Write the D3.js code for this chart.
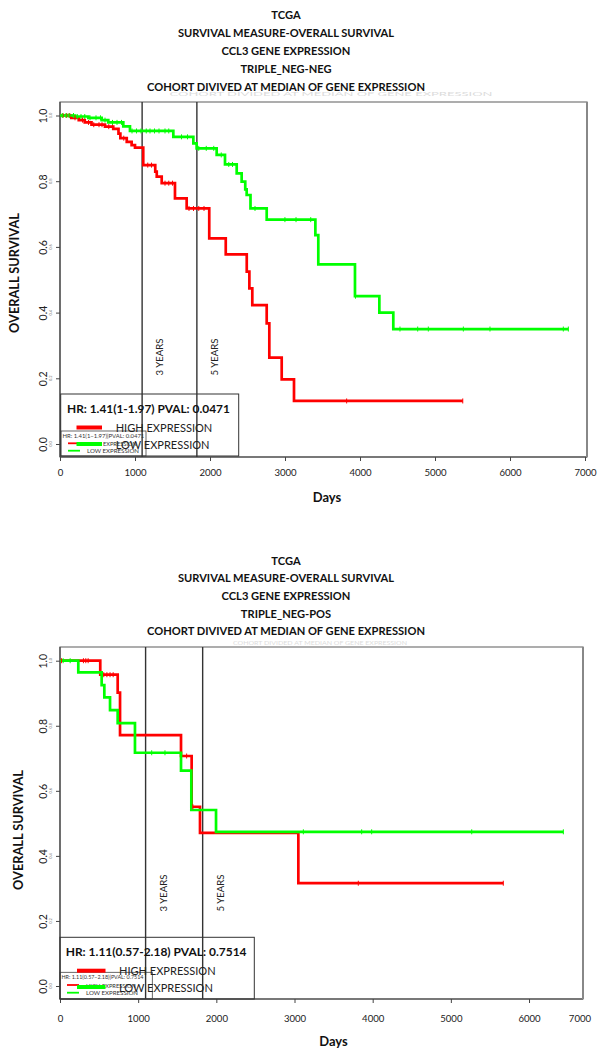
<!DOCTYPE html>
<html><head><meta charset="utf-8">
<script src="https://cdn.jsdelivr.net/npm/d3@7"></script>
<style>body{margin:0;background:#fff}svg{display:block}</style>
</head><body>
<svg id="c" width="605" height="1058"></svg>
<script>
// ---------- DATA ----------
const titleNeg = ["TCGA","SURVIVAL MEASURE-OVERALL SURVIVAL","CCL3 GENE EXPRESSION","TRIPLE_NEG-NEG","COHORT DIVIVED AT MEDIAN OF GENE EXPRESSION"];
const titlePos = ["TCGA","SURVIVAL MEASURE-OVERALL SURVIVAL","CCL3 GENE EXPRESSION","TRIPLE_NEG-POS","COHORT DIVIVED AT MEDIAN OF GENE EXPRESSION"];
const faintSubtitle = "COHORT DIVIDED AT MEDIAN OF GENE EXPRESSION";
const xTickValues = [0,1000,2000,3000,4000,5000,6000,7000];
const yTickValues = [0,0.2,0.4,0.6,0.8,1.0];
const yTickLabels = ["0.0","0.2","0.4","0.6","0.8","1.0"];
const yearDays = [1095,1825];
const yearLabels = ["3 YEARS","5 YEARS"];
const legendLabels = ["HIGH EXPRESSION","LOW EXPRESSION"];
const seriesColors = ["#ff0000","#00ff00"];
const xAxisTitle = "Days";
const yAxisTitle = "OVERALL SURVIVAL";

// TRIPLE_NEG-NEG : [day, survival after step]
const negHighSteps = [[0,1],[150,0.993],[250,0.986],[330,0.979],[420,0.972],[600,0.966],[710,0.959],[780,0.945],[805,0.931],[890,0.920],[955,0.910],[1000,0.902],[1110,0.849],[1270,0.829],[1290,0.814],[1356,0.794],[1533,0.748],[1689,0.717],[1990,0.626],[2210,0.577],[2490,0.525],[2525,0.474],[2564,0.423],[2756,0.367],[2791,0.263],[2956,0.197],[3120,0.131]];
const negHighEnd = 5370;
const negHighCensor = [40,90,130,200,300,380,450,520,560,650,700,850,1170,1220,1400,1450,1500,1720,1780,1850,1920,3822,5370];
const negLowSteps = [[0,1],[200,0.997],[378,0.993],[556,0.986],[644,0.979],[844,0.967],[933,0.953],[1511,0.935],[1778,0.915],[1822,0.900],[2089,0.880],[2200,0.851],[2356,0.824],[2422,0.799],[2470,0.775],[2489,0.758],[2540,0.717],[2756,0.683],[3405,0.636],[3444,0.547],[3933,0.450],[4258,0.400],[4444,0.350]];
const negLowEnd = 6778;
const negLowCensor = [30,80,120,180,230,280,330,400,480,540,600,700,760,820,960,1020,1080,1150,1200,1260,1320,1400,1450,1620,1700,1850,1950,2050,2150,2250,2300,2600,2999,3147,3343,3940,4533,4769,4911,5378,5733,6711,6778];
const negStats = "HR: 1.41(1-1.97) PVAL: 0.0471";
const negStatsSmall = "HR: 1.41(1\u22121.97)|PVAL: 0.0471";

// TRIPLE_NEG-POS
const posHighSteps = [[0,1],[515,0.957],[738,0.902],[768,0.771],[1548,0.707],[1684,0.551],[1791,0.471],[3049,0.316]];
const posHighEnd = 5671;
const posHighCensor = [20,300,330,360,560,600,640,680,1620,1700,3816,5671];
const posLowSteps = [[0,1],[234,0.964],[533,0.925],[567,0.887],[640,0.848],[738,0.808],[959,0.717],[1548,0.662],[1680,0.541],[1996,0.474]];
const posLowEnd = 6439;
const posLowCensor = [40,130,1173,1343,3113,3859,3987,5267,6439];
const posStats = "HR: 1.11(0.57-2.18) PVAL: 0.7514";
const posStatsSmall = "HR: 1.11(0.57\u22122.18)|PVAL: 0.7514";

// ---------- LAYOUT ----------
const FONT = "Lato, 'Open Sans', sans-serif";
const panels = [
  { title:titleNeg, titleX:286, titleY0:14, titleDy:18, titleW:278,
    box:{l:60,r:587,t:102,b:457}, xRange:[60,585], yRange:[444,115.5],
    xTicks:xTickValues, extra7000:false,
    series:[{steps:negHighSteps,end:negHighEnd,cens:negHighCensor},{steps:negLowSteps,end:negLowEnd,cens:negLowCensor}],
    stats:negStats, statsW:163, statsSmall:negStatsSmall,
    leg:{l:60.7,r:238.7,t:394,b:456, statsX:67, statsY:408, segX0:76.5, segX1:102, y1:427.5, y2:444, textX:115.7,
         sl:61,sr:146,st:431, tinyY:435.5, tinyR:443.3, tinyG:450.7},
    yTitleX:14, yTitleY:273, daysX:327, daysY:497, tickLabelY:473, yearLabelY:357,
    faintX:331, faintY:95.5, faintW:323 },
  { title:titlePos, titleX:286, titleY0:560, titleDy:17.7, titleW:278,
    box:{l:60,r:583,t:647,b:999}, xRange:[60,607.2], yRange:[986,660.7],
    xTicks:xTickValues.slice(0,7), extra7000:true,
    series:[{steps:posHighSteps,end:posHighEnd,cens:posHighCensor},{steps:posLowSteps,end:posLowEnd,cens:posLowCensor}],
    stats:posStats, statsW:181, statsSmall:posStatsSmall,
    leg:{l:60,r:254.3,t:937.3,b:999, statsX:65.7, statsY:951.7, segX0:77, segX1:105.5, y1:970.7, y2:987, textX:119,
         sl:60,sr:152.3,st:972.3, tinyY:976.7, tinyR:985, tinyG:992.7},
    yTitleX:18, yTitleY:830, daysX:333.5, daysY:1041, tickLabelY:1019, yearLabelY:893,
    faintX:320, faintY:644.5, faintW:174 }
];

const svg = d3.select("#c").attr("font-family", FONT);

function fit(sel, w){
  const L = sel.node().getComputedTextLength();
  const fs = parseFloat(sel.attr("font-size"));
  if (L>0) sel.attr("font-size", fs*w/L);
  return sel;
}
function survAt(steps,t){ let s=1; for (const [tt,v] of steps) if (tt<=t) s=v; return s; }

panels.forEach(P=>{
  const g = svg.append("g");
  const x = d3.scaleLinear().domain([0,7000]).range(P.xRange);
  const y = d3.scaleLinear().domain([0,1]).range(P.yRange);
  const B = P.box;

  // faint ghost subtitle
  const ft = g.append("text").attr("x",P.faintX).attr("y",P.faintY).attr("text-anchor","middle")
    .attr("font-size",5).attr("fill","#dcdcdc").text(faintSubtitle);
  ft.attr("textLength",P.faintW).attr("lengthAdjust","spacingAndGlyphs");

  // titles
  const tls = P.title.map((t,i)=> g.append("text").attr("x",P.titleX).attr("y",P.titleY0+i*P.titleDy)
    .attr("text-anchor","middle").attr("dominant-baseline","central").attr("font-weight","bold")
    .attr("font-size",12).attr("fill","#111").text(t));
  fit(tls[4], P.titleW);
  const tfs = tls[4].attr("font-size");
  tls.forEach(t=>t.attr("font-size",tfs));

  // box
  g.append("rect").attr("x",B.l).attr("y",B.t).attr("width",B.r-B.l).attr("height",B.b-B.t)
    .attr("fill","none").attr("stroke","#777").attr("stroke-width",1.2);
  g.append("line").attr("x1",B.l).attr("x2",B.l).attr("y1",B.t).attr("y2",B.b).attr("stroke","#444").attr("stroke-width",1.2);
  g.append("line").attr("x1",B.l).attr("x2",B.r).attr("y1",B.b).attr("y2",B.b).attr("stroke","#444").attr("stroke-width",1.2);
  g.append("line").attr("x1",B.r).attr("x2",B.r).attr("y1",B.t).attr("y2",B.b).attr("stroke","#888").attr("stroke-width",2);

  // x axis
  const xa = g.append("g").attr("transform",`translate(0,${B.b})`)
    .call(d3.axisBottom(x).tickValues(P.xTicks).tickSize(4).tickFormat(d3.format("d")));
  xa.select(".domain").remove();
  xa.selectAll(".tick line").attr("stroke","#444");
  xa.selectAll("text").attr("y",P.tickLabelY-B.b).attr("dy","0.35em").attr("font-size",9.6)
    .attr("font-family",FONT).attr("fill","#222");
  if (P.extra7000){
    g.append("text").attr("x",B.r-3).attr("y",P.tickLabelY).attr("dy","0.35em").attr("text-anchor","middle")
      .attr("font-size",9.6).attr("fill","#222").text(String(xTickValues[7]));
  }
  // y axis
  const ya = g.append("g").attr("transform",`translate(${B.l},0)`)
    .call(d3.axisLeft(y).tickValues(yTickValues).tickSize(4).tickFormat((d,i)=>yTickLabels[i]));
  ya.select(".domain").remove();
  ya.selectAll(".tick line").attr("stroke","#444");
  ya.selectAll("text").attr("x",null).attr("dy",null).attr("text-anchor","middle")
    .attr("transform","translate(-13,0) rotate(-90)").attr("font-size",10.5)
    .attr("font-family",FONT).attr("fill","#222");
  // tiny ghost tick labels
  yTickValues.forEach((v,i)=>{
    g.append("text").attr("transform",`translate(${B.l-8},${y(v)}) rotate(-90)`).attr("text-anchor","middle")
      .attr("font-size",4).attr("fill","#777").text(yTickLabels[i]);
  });

  // year lines
  yearDays.forEach((d,i)=>{
    g.append("line").attr("x1",x(d)).attr("x2",x(d)).attr("y1",B.t).attr("y2",B.b)
      .attr("stroke","#333").attr("stroke-width",1.4);
    const t = g.append("text").attr("transform",`translate(${x(d)+21},${P.yearLabelY}) rotate(-90)`)
      .attr("text-anchor","middle").attr("font-size",10).attr("fill","#222").text(yearLabels[i]);
    fit(t,37);
  });

  // curves
  const line = d3.line().x(d=>x(d[0])).y(d=>y(d[1])).curve(d3.curveStepAfter);
  P.series.forEach((S,i)=>{
    const pts = S.steps.concat([[S.end, S.steps[S.steps.length-1][1]]]);
    g.append("path").attr("d",line(pts)).attr("fill","none").attr("stroke",seriesColors[i]).attr("stroke-width",2.7);
  });
  P.series.forEach((S,i)=>{
    S.cens.forEach(t=>{
      const cy = y(survAt(S.steps,t));
      g.append("line").attr("x1",x(t)).attr("x2",x(t)).attr("y1",cy-2.5).attr("y2",cy+2.5)
        .attr("stroke",seriesColors[i]).attr("stroke-width",1);
    });
  });

  // legend
  const L = P.leg;
  g.append("rect").attr("x",L.sl).attr("y",L.st).attr("width",L.sr-L.sl).attr("height",L.b-L.st)
    .attr("fill","none").attr("stroke","#444").attr("stroke-width",0.8);
  const ts = g.append("text").attr("x",L.sl+1.5).attr("y",L.tinyY).attr("dominant-baseline","central")
    .attr("font-size",4.5).attr("fill","#333").text(P.statsSmall);
  fit(ts, 82);
  [L.tinyR, L.tinyG].forEach((yy,i)=>{
    g.append("line").attr("x1",L.sl+7).attr("x2",L.sl+19).attr("y1",yy).attr("y2",yy)
      .attr("stroke",seriesColors[i]).attr("stroke-width",1.8);
    const tt = g.append("text").attr("x",L.sl+26).attr("y",yy).attr("dominant-baseline","central")
      .attr("font-size",5).attr("fill","#333").text(legendLabels[i]);
    fit(tt, i===0?50:52);
  });
  g.append("rect").attr("x",L.l).attr("y",L.t).attr("width",L.r-L.l).attr("height",L.b-L.t)
    .attr("fill","none").attr("stroke","#333").attr("stroke-width",1);
  const st = g.append("text").attr("x",L.statsX).attr("y",L.statsY).attr("dominant-baseline","central")
    .attr("font-weight","bold").attr("font-size",11).attr("fill","#111").text(P.stats);
  fit(st, P.statsW);
  [L.y1, L.y2].forEach((yy,i)=>{
    g.append("line").attr("x1",L.segX0).attr("x2",L.segX1).attr("y1",yy).attr("y2",yy)
      .attr("stroke",seriesColors[i]).attr("stroke-width",4);
    const tt = g.append("text").attr("x",L.textX).attr("y",yy).attr("dominant-baseline","central")
      .attr("font-size",12).attr("fill","#222").text(legendLabels[i]);
    fit(tt, i===0?96.7:94);
  });

  // axis titles
  const yt = g.append("text").attr("transform",`translate(${P.yTitleX+5},${P.yTitleY}) rotate(-90)`)
    .attr("text-anchor","middle").attr("font-weight","bold").attr("font-size",13).attr("fill","#111").text(yAxisTitle);
  fit(yt,120);
  const dt = g.append("text").attr("x",P.daysX).attr("y",P.daysY).attr("dominant-baseline","central")
    .attr("text-anchor","middle").attr("font-weight","bold").attr("font-size",12).attr("fill","#111").text(xAxisTitle);
  fit(dt,28.5);
});
</script>
</body></html>
